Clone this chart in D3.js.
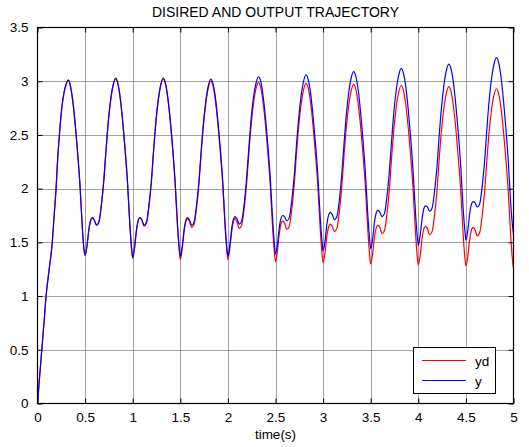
<!DOCTYPE html>
<html>
<head>
<meta charset="utf-8">
<script src="https://cdn.jsdelivr.net/npm/d3@7"></script>
<style>
  html, body { margin: 0; padding: 0; background: #fff; }
  svg { display: block; }
  text { font-family: "Liberation Sans", Arial, Helvetica, sans-serif; fill: #000; }
</style>
</head>
<body>
<svg id="chart" width="529" height="447"></svg>
<script>
// Sample times (s)
const time = [
  0, 0.01, 0.025, 0.045, 0.07, 0.09, 0.12, 0.155, 0.175, 0.195, 0.21, 0.23, 0.255, 0.28, 0.3, 0.325, 0.345, 0.37, 0.395, 0.42, 0.445, 0.47, 0.49,
  0.5, 0.52, 0.54, 0.56, 0.575, 0.595, 0.62, 0.645, 0.67, 0.695, 0.72, 0.745, 0.77, 0.795, 0.82, 0.845, 0.87, 0.895, 0.92, 0.945, 0.97, 0.99,
  1.0, 1.02, 1.04, 1.06, 1.075, 1.095, 1.12, 1.145, 1.17, 1.195, 1.22, 1.245, 1.27, 1.295, 1.32, 1.345, 1.37, 1.395, 1.42, 1.445, 1.47, 1.49,
  1.5, 1.52, 1.54, 1.56, 1.575, 1.595, 1.62, 1.645, 1.67, 1.695, 1.72, 1.745, 1.77, 1.795, 1.82, 1.845, 1.87, 1.895, 1.92, 1.945, 1.97, 1.99,
  2.0, 2.02, 2.04, 2.06, 2.075, 2.095, 2.12, 2.145, 2.17, 2.195, 2.22, 2.245, 2.27, 2.295, 2.32, 2.345, 2.37, 2.395, 2.42, 2.445, 2.47, 2.49,
  2.5, 2.52, 2.54, 2.56, 2.575, 2.595, 2.62, 2.645, 2.67, 2.695, 2.72, 2.745, 2.77, 2.795, 2.82, 2.845, 2.87, 2.895, 2.92, 2.945, 2.97, 2.99,
  3.0, 3.02, 3.04, 3.06, 3.075, 3.095, 3.12, 3.145, 3.17, 3.195, 3.22, 3.245, 3.27, 3.295, 3.32, 3.345, 3.37, 3.395, 3.42, 3.445, 3.47, 3.49,
  3.5, 3.52, 3.54, 3.56, 3.575, 3.595, 3.62, 3.645, 3.67, 3.695, 3.72, 3.745, 3.77, 3.795, 3.82, 3.845, 3.87, 3.895, 3.92, 3.945, 3.97, 3.99,
  4.0, 4.02, 4.04, 4.06, 4.075, 4.095, 4.12, 4.145, 4.17, 4.195, 4.22, 4.245, 4.27, 4.295, 4.32, 4.345, 4.37, 4.395, 4.42, 4.445, 4.47, 4.49,
  4.5, 4.52, 4.54, 4.56, 4.575, 4.595, 4.62, 4.645, 4.67, 4.695, 4.72, 4.745, 4.77, 4.795, 4.82, 4.845, 4.87, 4.895, 4.92, 4.945, 4.97, 4.99, 5.0
];

// Desired trajectory yd
const yd = [
  0, 0.11, 0.28, 0.5, 0.77, 1.0, 1.23, 1.5, 1.75, 2.0, 2.25, 2.5, 2.75, 2.9, 2.97, 3.01, 2.96, 2.82, 2.61, 2.35, 2.05, 1.65, 1.42,
  1.38, 1.47, 1.62, 1.71, 1.73, 1.71, 1.66, 1.69, 1.84, 2.06, 2.36, 2.63, 2.83, 2.96, 3.02, 2.97, 2.83, 2.62, 2.36, 2.06, 1.66, 1.42,
  1.35, 1.45, 1.61, 1.71, 1.73, 1.71, 1.65, 1.68, 1.83, 2.05, 2.36, 2.63, 2.83, 2.96, 3.02, 2.97, 2.83, 2.62, 2.36, 2.05, 1.65, 1.41,
  1.34, 1.44, 1.60, 1.70, 1.72, 1.70, 1.64, 1.67, 1.82, 2.04, 2.34, 2.61, 2.81, 2.94, 3.00, 2.95, 2.81, 2.60, 2.34, 2.05, 1.65, 1.41,
  1.34, 1.44, 1.60, 1.70, 1.72, 1.69, 1.63, 1.66, 1.81, 2.03, 2.33, 2.60, 2.80, 2.93, 2.99, 2.94, 2.80, 2.59, 2.33, 2.03, 1.63, 1.39,
  1.32, 1.42, 1.58, 1.68, 1.70, 1.68, 1.62, 1.65, 1.80, 2.02, 2.32, 2.59, 2.79, 2.92, 2.98, 2.93, 2.79, 2.58, 2.32, 2.02, 1.62, 1.38,
  1.31, 1.40, 1.56, 1.65, 1.67, 1.65, 1.60, 1.63, 1.78, 2.00, 2.31, 2.58, 2.78, 2.91, 2.97, 2.92, 2.78, 2.57, 2.31, 2.01, 1.61, 1.37,
  1.30, 1.39, 1.55, 1.64, 1.66, 1.64, 1.58, 1.61, 1.76, 1.98, 2.29, 2.57, 2.77, 2.90, 2.96, 2.91, 2.77, 2.56, 2.30, 2.00, 1.60, 1.36,
  1.29, 1.38, 1.54, 1.63, 1.65, 1.63, 1.57, 1.60, 1.75, 1.97, 2.28, 2.56, 2.76, 2.89, 2.95, 2.90, 2.76, 2.55, 2.29, 1.99, 1.59, 1.35,
  1.28, 1.37, 1.53, 1.62, 1.64, 1.62, 1.56, 1.59, 1.74, 1.96, 2.26, 2.54, 2.74, 2.87, 2.93, 2.88, 2.74, 2.53, 2.27, 1.97, 1.57, 1.33, 1.26
];

// Output trajectory y
const y = [
  0, 0.11, 0.28, 0.5, 0.77, 1.0, 1.23, 1.5, 1.75, 2.0, 2.25, 2.5, 2.75, 2.9, 2.97, 3.01, 2.96, 2.82, 2.61, 2.35, 2.05, 1.65, 1.42,
  1.38, 1.47, 1.62, 1.71, 1.73, 1.71, 1.66, 1.69, 1.84, 2.06, 2.36, 2.64, 2.84, 2.97, 3.03, 2.98, 2.84, 2.63, 2.37, 2.07, 1.67, 1.43,
  1.36, 1.46, 1.62, 1.71, 1.73, 1.71, 1.66, 1.69, 1.84, 2.06, 2.36, 2.64, 2.84, 2.97, 3.03, 2.98, 2.84, 2.64, 2.38, 2.08, 1.68, 1.44,
  1.37, 1.46, 1.62, 1.71, 1.73, 1.71, 1.66, 1.69, 1.84, 2.06, 2.36, 2.63, 2.83, 2.96, 3.02, 2.97, 2.84, 2.63, 2.38, 2.08, 1.68, 1.44,
  1.37, 1.47, 1.63, 1.72, 1.74, 1.72, 1.67, 1.70, 1.85, 2.08, 2.38, 2.66, 2.86, 2.98, 3.04, 3.00, 2.86, 2.66, 2.40, 2.10, 1.71, 1.47,
  1.39, 1.48, 1.64, 1.73, 1.75, 1.74, 1.70, 1.73, 1.88, 2.10, 2.40, 2.67, 2.87, 3.00, 3.06, 3.01, 2.88, 2.67, 2.42, 2.12, 1.73, 1.50,
  1.42, 1.51, 1.67, 1.76, 1.78, 1.76, 1.71, 1.74, 1.89, 2.12, 2.42, 2.70, 2.90, 3.03, 3.09, 3.04, 2.91, 2.70, 2.44, 2.14, 1.75, 1.52,
  1.44, 1.53, 1.69, 1.78, 1.80, 1.78, 1.74, 1.77, 1.92, 2.15, 2.45, 2.73, 2.93, 3.06, 3.12, 3.07, 2.94, 2.73, 2.47, 2.17, 1.78, 1.55,
  1.47, 1.57, 1.72, 1.82, 1.84, 1.83, 1.79, 1.82, 1.97, 2.19, 2.50, 2.77, 2.97, 3.10, 3.16, 3.11, 2.98, 2.77, 2.52, 2.22, 1.83, 1.60,
  1.52, 1.61, 1.77, 1.86, 1.88, 1.87, 1.83, 1.86, 2.01, 2.24, 2.55, 2.83, 3.03, 3.16, 3.22, 3.17, 3.03, 2.82, 2.56, 2.26, 1.87, 1.65, 1.57
];

const xTicks = [0, 0.5, 1, 1.5, 2, 2.5, 3, 3.5, 4, 4.5, 5];
const yTicks = [0, 0.5, 1, 1.5, 2, 2.5, 3, 3.5];
const seriesNames = ["yd", "y"];
const seriesColors = ["#ff0000", "#0000ff"];
const titleText = "DISIRED AND OUTPUT TRAJECTORY";
const xLabelText = "time(s)";

const svg = d3.select("#chart");
const plotLeft = 37.5, plotRight = 513.5, plotTop = 27.5, plotBottom = 403.5;

const x = d3.scaleLinear().domain([0, 5]).range([plotLeft, plotRight]);
const yS = d3.scaleLinear().domain([0, 3.5]).range([plotBottom, plotTop]);

// grid
const grid = svg.append("g");
grid.selectAll("line.vg").data(xTicks.slice(1, -1)).join("line")
  .attr("x1", d => Math.round(x(d)) + 0.5).attr("x2", d => Math.round(x(d)) + 0.5)
  .attr("y1", plotTop).attr("y2", plotBottom)
  .attr("stroke", "#444").attr("stroke-width", 1).attr("stroke-dasharray", "1,1");
grid.selectAll("line.hg").data(yTicks.slice(1, -1)).join("line")
  .attr("y1", d => Math.round(yS(d)) + 0.5).attr("y2", d => Math.round(yS(d)) + 0.5)
  .attr("x1", plotLeft).attr("x2", plotRight)
  .attr("stroke", "#444").attr("stroke-width", 1).attr("stroke-dasharray", "1,1");

// data lines
const pts = (vals) => time.map((t, i) => [t, vals[i]]);
const line = d3.line().x(d => x(d[0])).y(d => yS(d[1])).curve(d3.curveMonotoneX);
[yd, y].forEach((vals, i) => {
  svg.append("path").datum(pts(vals))
    .attr("d", line).attr("fill", "none")
    .attr("stroke", seriesColors[i]).attr("stroke-width", 1.2);
});

// axes: inward ticks on all four sides
const fmt = d => String(d);
const labelSize = 13.5;
svg.append("g").attr("transform", `translate(0,${plotBottom})`)
  .call(d3.axisBottom(x).tickValues(xTicks).tickFormat(fmt).tickSizeInner(-5).tickSizeOuter(0).tickPadding(9))
  .call(g => { g.select(".domain").remove(); g.selectAll("text").attr("font-size", labelSize); });
svg.append("g").attr("transform", `translate(0,${plotTop})`)
  .call(d3.axisTop(x).tickValues(xTicks).tickFormat("").tickSizeInner(-5).tickSizeOuter(0))
  .call(g => g.select(".domain").remove());
svg.append("g").attr("transform", `translate(${plotLeft},0)`)
  .call(d3.axisLeft(yS).tickValues(yTicks).tickFormat(fmt).tickSizeInner(-5).tickSizeOuter(0).tickPadding(9))
  .call(g => { g.select(".domain").remove(); g.selectAll("text").attr("font-size", labelSize); });
svg.append("g").attr("transform", `translate(${plotRight},0)`)
  .call(d3.axisRight(yS).tickValues(yTicks).tickFormat("").tickSizeInner(-5).tickSizeOuter(0))
  .call(g => g.select(".domain").remove());

// box
svg.append("rect").attr("x", plotLeft).attr("y", plotTop)
  .attr("width", plotRight - plotLeft).attr("height", plotBottom - plotTop)
  .attr("fill", "none").attr("stroke", "#000").attr("stroke-width", 1.2);

// title and axis label
svg.append("text").attr("x", (plotLeft + plotRight) / 2).attr("y", 17)
  .attr("text-anchor", "middle").attr("font-size", 14).text(titleText);
svg.append("text").attr("x", (plotLeft + plotRight) / 2).attr("y", 439)
  .attr("text-anchor", "middle").attr("font-size", labelSize).text(xLabelText);

// legend
const lg = svg.append("g");
lg.append("rect").attr("x", 413.5).attr("y", 347.5).attr("width", 82).attr("height", 46)
  .attr("fill", "#fff").attr("stroke", "#000").attr("stroke-width", 1);
seriesNames.forEach((name, i) => {
  const ly = 360.5 + i * 20;
  lg.append("line").attr("x1", 422).attr("x2", 466).attr("y1", ly).attr("y2", ly)
    .attr("stroke", seriesColors[i]).attr("stroke-width", 1.2);
  lg.append("text").attr("x", 475).attr("y", ly + 5).attr("font-size", labelSize).text(name);
});
</script>
</body>
</html>
